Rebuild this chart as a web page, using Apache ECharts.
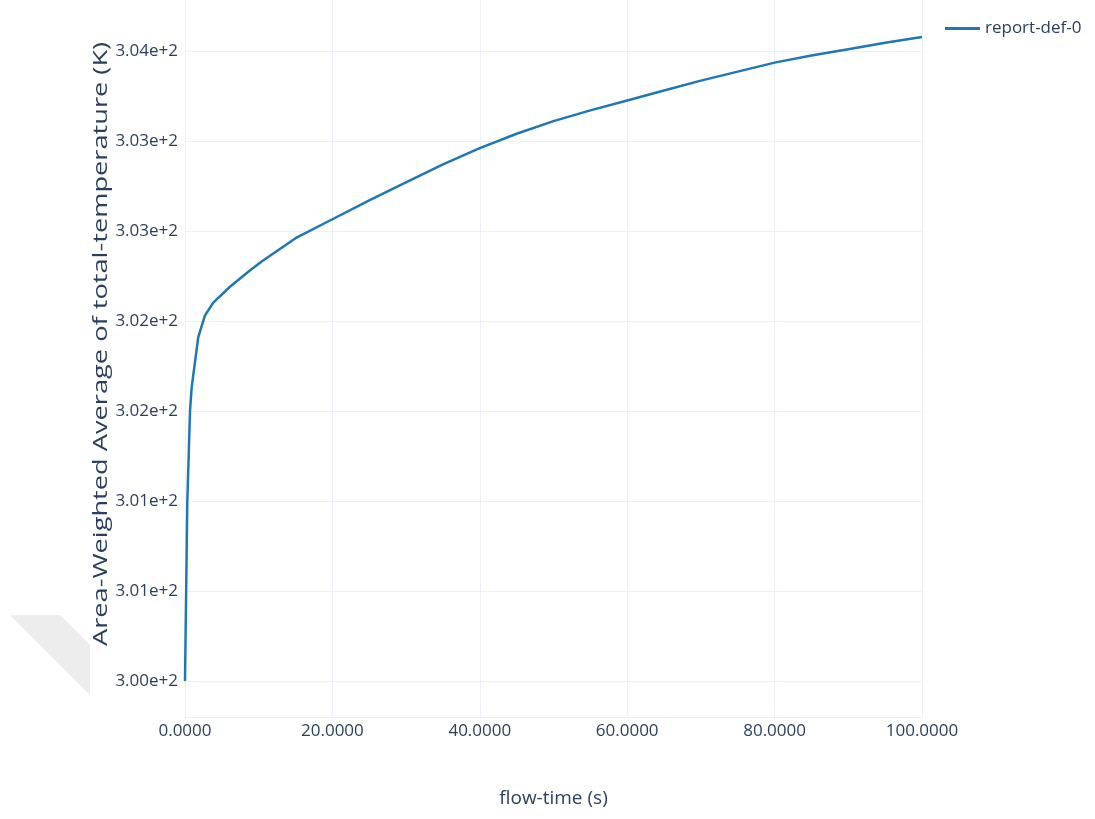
<!DOCTYPE html>
<html>
<head>
<meta charset="utf-8">
<script src="https://cdn.jsdelivr.net/npm/echarts@6/dist/echarts.min.js"></script>
<style>
    html, body { margin: 0; padding: 0; background: #fff; }
    #myChart { width: 1095px; height: 819px; }
</style>
</head>
<body>
<div id="myChart"></div>
<script>
// flow-time (s) vs area-weighted average of total-temperature (K)
var flow_time = [0, 0.31, 0.68, 0.9, 1.8, 2.7, 3.8, 6.1, 8.8, 10.4, 15, 20, 25, 29, 35,
    40, 45, 50, 55, 60, 65, 70, 75, 80, 85, 90, 95, 100];
var temperature = [300.00, 300.99, 301.50, 301.63, 301.91, 302.03, 302.10, 302.19, 302.28,
    302.33, 302.46, 302.565, 302.67, 302.75, 302.87, 302.96, 303.04, 303.11, 303.17, 303.225,
    303.28, 303.335, 303.385, 303.435, 303.475, 303.51, 303.545, 303.577];

var x_ticks = [0, 20, 40, 60, 80, 100];
var x_tick_labels = ['0.0000', '20.0000', '40.0000', '60.0000', '80.0000', '100.0000'];
var y_ticks = [300, 300.5, 301, 301.5, 302, 302.5, 303, 303.5];
var y_tick_labels = ['3.00e+2', '3.01e+2', '3.01e+2', '3.02e+2', '3.02e+2', '3.03e+2', '3.03e+2', '3.04e+2'];

var series_name = 'report-def-0';
var text_color = '#2a3f5f';
var grid_color = '#EBF0F8';
var font = 'Open Sans';

function create_image() {
    var myChart = echarts.init(document.getElementById('myChart'));
    var points = [];
    for (var i = 0; i < flow_time.length; i++) {
        points.push([flow_time[i], temperature[i]]);
    }
    var option = {
        animation: false,
        backgroundColor: '#fff',
        grid: {
            left: 185,
            right: 173,
            top: 0,
            bottom: 102
        },
        legend: {
            data: [series_name],
            left: 940,
            top: 15,
            icon: 'rect',
            itemWidth: 35,
            itemHeight: 3,
            itemGap: 8,
            textStyle: { color: text_color, fontFamily: font, fontSize: 17 }
        },
        graphic: [
            {
                type: 'polygon',
                silent: true,
                shape: { points: [[10, 615], [60, 615], [90, 645], [90, 695]] },
                style: { fill: '#ededed' }
            },
            {
                // y axis title, stretched along its length like the reference
                type: 'text',
                x: 101,
                y: 344,
                rotation: Math.PI / 2,
                scaleX: 1.36,
                style: {
                    text: 'Area-Weighted Average of total-temperature (K)',
                    fill: text_color,
                    font: '20px "Open Sans"',
                    align: 'center',
                    verticalAlign: 'middle'
                }
            }
        ],
        xAxis: {
            type: 'value',
            min: 0,
            max: 100,
            name: 'flow-time (s)',
            nameLocation: 'middle',
            nameGap: 72,
            nameTextStyle: { color: text_color, fontFamily: font, fontSize: 19 },
            axisLine: { show: true, lineStyle: { color: grid_color, width: 1 } },
            axisTick: { show: false, customValues: x_ticks },
            axisLabel: {
                customValues: x_ticks,
                margin: 6,
                color: text_color,
                fontFamily: font,
                fontSize: 17,
                formatter: function (v) {
                    return x_tick_labels[x_ticks.indexOf(v)];
                }
            },
            splitLine: { show: true, lineStyle: { color: grid_color, width: 1 } }
        },
        yAxis: {
            type: 'value',
            min: 299.8,
            max: 303.783,
            axisLine: { show: false },
            axisTick: { show: false, customValues: y_ticks },
            axisLabel: {
                customValues: y_ticks,
                margin: 7,
                color: text_color,
                fontFamily: font,
                fontSize: 17,
                formatter: function (v) {
                    return y_tick_labels[y_ticks.indexOf(v)];
                }
            },
            splitLine: { show: true, lineStyle: { color: grid_color, width: 1 } }
        },
        series: [{
            name: series_name,
            type: 'line',
            data: points,
            showSymbol: false,
            lineStyle: { color: '#1f77b4', width: 2.5 },
            itemStyle: { color: '#1f77b4' }
        }]
    };
    myChart.setOption(option);
}

create_image();
</script>
</body>
</html>
